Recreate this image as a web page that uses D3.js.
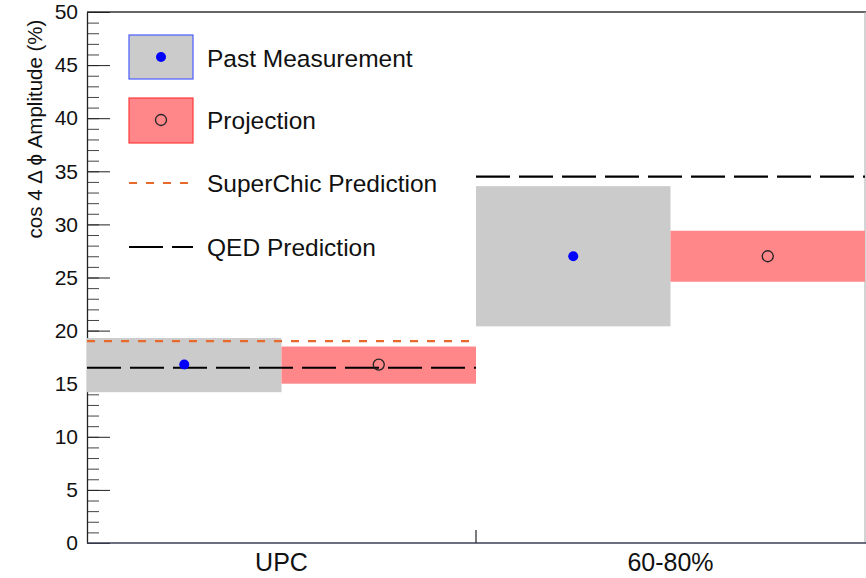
<!DOCTYPE html>
<meta charset="utf-8">
<script src="https://d3js.org/d3.v7.min.js"></script>
<style>
  body { margin: 0; background: #fff; }
  text { font-family: "Liberation Sans", Arial, Helvetica, sans-serif; }
</style>
<body>
<script>

// DATA

var categories = ["UPC", "60-80%"];

// past measurement (value + uncertainty box)
var pastValue = [16.8, 27.0];
var pastLow   = [14.2, 20.4];
var pastHigh  = [19.3, 33.6];

// projection
var projValue = [16.8, 27.0];
var projLow   = [15.0, 24.6];
var projHigh  = [18.5, 29.4];

// predictions (null = not shown)
var superchicPred = [19.0, null];
var qedPred       = [16.5, 34.5];

var yTicks = [0, 5, 10, 15, 20, 25, 30, 35, 40, 45, 50];

var legendLabels = ["Past Measurement", "Projection", "SuperChic Prediction", "QED Prediction"];

var width = 866;
var height = 578;

var margin = { top: 12, left: 87, right: 1, bottom: 35 };

var grayFill = "#cbcbcb";
var redFill = "#ff8689";
var orange = "#e8692c";


// SVG SETUP

var svg = d3.select("body")
  .append("svg")
  .attr("width", width)
  .attr("height", height);


// SCALES

var x = d3.scaleBand()
  .domain(categories)
  .range([margin.left, width - margin.right])
  .padding(0);

var sub = d3.scaleBand()
  .domain(["past", "proj"])
  .range([0, x.bandwidth()]);

var y = d3.scaleLinear()
  .domain([0, 50])
  .range([height - margin.bottom, margin.top]);


// FRAME + AXES

svg.append("line")
  .attr("x1", margin.left).attr("x2", width)
  .attr("y1", y(50)).attr("y2", y(50))
  .attr("stroke", "#333").attr("stroke-width", 1.3);

svg.append("line")
  .attr("x1", width - margin.right).attr("x2", width - margin.right)
  .attr("y1", y(50)).attr("y2", y(0))
  .attr("stroke", "#aaa").attr("stroke-width", 1);

// minor ticks
svg.append("g")
  .attr("transform", `translate(${margin.left},0)`)
  .call(d3.axisLeft(y).ticks(50).tickSize(-12).tickFormat(""))
  .call(function (g) { g.select(".domain").remove(); })
  .selectAll("line").attr("stroke", "#444");

// major ticks
var yAxis = svg.append("g")
  .attr("transform", `translate(${margin.left},0)`)
  .call(d3.axisLeft(y).tickValues(yTicks).tickSize(-23).tickPadding(9).tickSizeOuter(0));

yAxis.select(".domain").attr("stroke", "#222").attr("stroke-width", 1.3);
yAxis.selectAll(".tick line").attr("stroke", "#222");
yAxis.selectAll(".tick text")
  .style("font-size", "21px")
  .attr("fill", "#111");

// bottom axis line + bin edge tick
svg.append("line")
  .attr("x1", margin.left).attr("x2", width)
  .attr("y1", y(0)).attr("y2", y(0))
  .attr("stroke", "#3a3f55").attr("stroke-width", 1.3);

svg.append("line")
  .attr("x1", x(categories[1])).attr("x2", x(categories[1]))
  .attr("y1", y(0)).attr("y2", y(0) - 13)
  .attr("stroke", "#333").attr("stroke-width", 1.3);

svg.selectAll(".xlabel")
  .data(categories)
  .enter()
  .append("text")
    .attr("class", "xlabel")
    .attr("x", function (d) { return x(d) + x.bandwidth() / 2; })
    .attr("y", height - 7)
    .attr("text-anchor", "middle")
    .style("font-size", "25px")
    .attr("fill", "#111")
    .text(function (d) { return d; });


// BOXES

svg.selectAll(".pastBox")
  .data(categories)
  .enter()
  .append("rect")
    .attr("x", function (d) { return x(d) + sub("past"); })
    .attr("y", function (d, i) { return y(pastHigh[i]); })
    .attr("width", sub.bandwidth())
    .attr("height", function (d, i) { return y(pastLow[i]) - y(pastHigh[i]); })
    .attr("fill", grayFill);

svg.selectAll(".projBox")
  .data(categories)
  .enter()
  .append("rect")
    .attr("x", function (d) { return x(d) + sub("proj"); })
    .attr("y", function (d, i) { return y(projHigh[i]); })
    .attr("width", sub.bandwidth())
    .attr("height", function (d, i) { return y(projLow[i]) - y(projHigh[i]); })
    .attr("fill", redFill);


// PREDICTION LINES

categories.forEach(function (c, i) {
  if (superchicPred[i] != null) {
    svg.append("line")
      .attr("x1", x(c)).attr("x2", x(c) + x.bandwidth())
      .attr("y1", y(superchicPred[i])).attr("y2", y(superchicPred[i]))
      .attr("stroke", orange).attr("stroke-width", 2.2)
      .attr("stroke-dasharray", "8,9");
  }
  if (qedPred[i] != null) {
    svg.append("line")
      .attr("x1", x(c)).attr("x2", x(c) + x.bandwidth())
      .attr("y1", y(qedPred[i])).attr("y2", y(qedPred[i]))
      .attr("stroke", "#000").attr("stroke-width", 2.2)
      .attr("stroke-dasharray", "34,9");
  }
});


// POINTS

svg.selectAll(".pastPt")
  .data(categories)
  .enter()
  .append("circle")
    .attr("cx", function (d) { return x(d) + sub("past") + sub.bandwidth() / 2; })
    .attr("cy", function (d, i) { return y(pastValue[i]); })
    .attr("r", 5)
    .attr("fill", "#0000ff");

svg.selectAll(".projPt")
  .data(categories)
  .enter()
  .append("circle")
    .attr("cx", function (d) { return x(d) + sub("proj") + sub.bandwidth() / 2; })
    .attr("cy", function (d, i) { return y(projValue[i]); })
    .attr("r", 5.5)
    .attr("fill", "none")
    .attr("stroke", "#222")
    .attr("stroke-width", 1.3);


// LEGEND

var lg = svg.append("g");

lg.append("rect")
  .attr("x", 129).attr("y", 35).attr("width", 64).attr("height", 44)
  .attr("fill", grayFill).attr("stroke", "#4a5cff").attr("stroke-width", 1.2);
lg.append("circle")
  .attr("cx", 161).attr("cy", 57).attr("r", 5).attr("fill", "#0000ff");

lg.append("rect")
  .attr("x", 129).attr("y", 98).attr("width", 64).attr("height", 45)
  .attr("fill", redFill).attr("stroke", "#ff3b3b").attr("stroke-width", 1.2);
lg.append("circle")
  .attr("cx", 161).attr("cy", 120).attr("r", 5.5)
  .attr("fill", "none").attr("stroke", "#222").attr("stroke-width", 1.3);

lg.append("line")
  .attr("x1", 129).attr("x2", 192).attr("y1", 183).attr("y2", 183)
  .attr("stroke", orange).attr("stroke-width", 2.2).attr("stroke-dasharray", "8,9");

lg.append("line")
  .attr("x1", 129).attr("x2", 193).attr("y1", 247).attr("y2", 247)
  .attr("stroke", "#000").attr("stroke-width", 2.2).attr("stroke-dasharray", "34,9");

var legendY = [58, 120, 183, 247];

lg.selectAll(".lgText")
  .data(legendLabels)
  .enter()
  .append("text")
    .attr("x", 207)
    .attr("y", function (d, i) { return legendY[i]; })
    .attr("dy", "0.35em")
    .style("font-size", "24.5px")
    .attr("fill", "#111")
    .text(function (d) { return d; });


// Y LABEL

svg.append("text")
  .attr("text-anchor", "middle")
  .attr("transform", "translate(35," + 129 + ")rotate(-90)")
  .attr("dy", "0.35em")
  .style("font-size", "20.5px")
  .attr("fill", "#111")
  .text("cos 4 \u0394 \u03d5 Amplitude (%)");

</script>
